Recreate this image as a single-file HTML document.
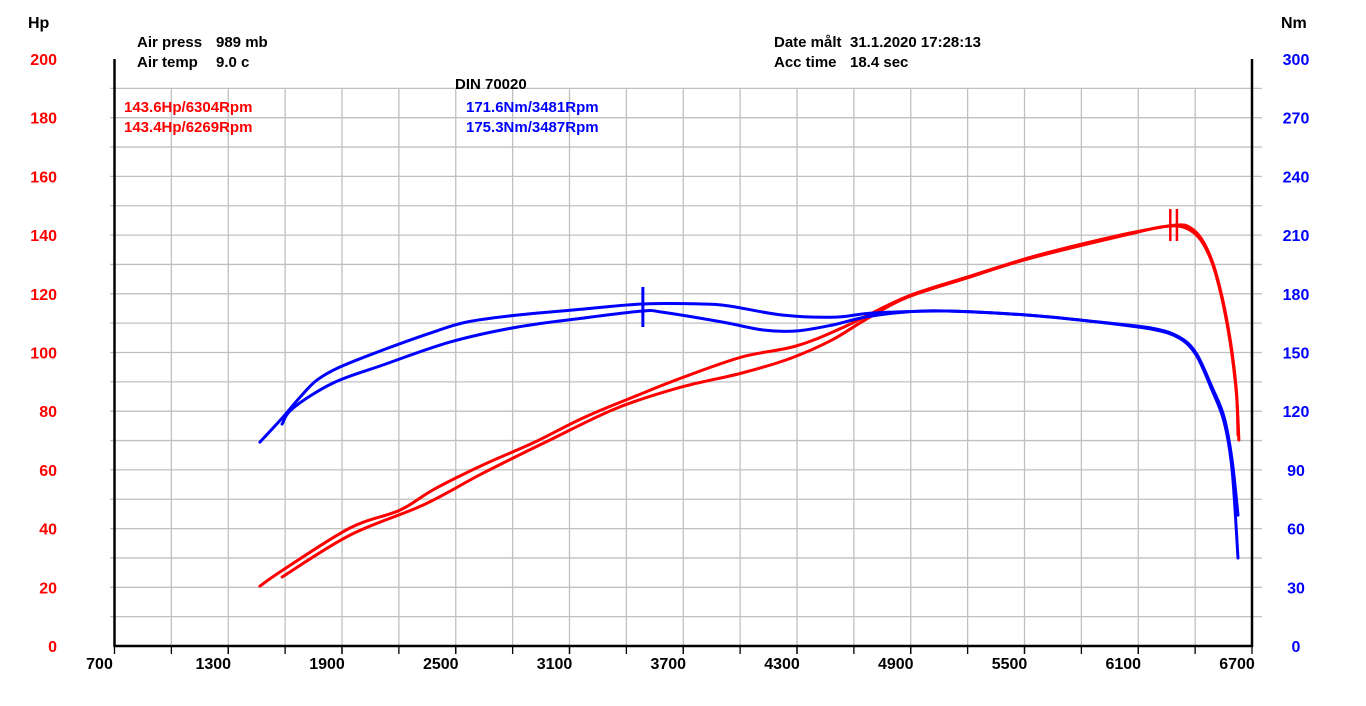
<!DOCTYPE html>
<html><head><meta charset="utf-8"><style>
html,body{margin:0;padding:0;background:#fff;}
svg{display:block;}
text{font-family:"Liberation Sans","DejaVu Sans",sans-serif;font-weight:bold;}
</style></head><body>
<svg id="chart" width="1366" height="706" viewBox="0 0 1366 706" xmlns="http://www.w3.org/2000/svg">
<g id="grid"></g>
<g id="axes"></g>
<g id="series"></g>
<text x="28" y="28" font-size="16" fill="#000">Hp</text>
<text x="1281" y="28" font-size="16" fill="#000">Nm</text>
<g font-size="15" fill="#000">
<text x="137" y="47">Air press</text><text x="216" y="47">989 mb</text>
<text x="137" y="67">Air temp</text><text x="216" y="67">9.0 c</text>
<text x="774" y="47">Date målt</text><text x="850" y="47">31.1.2020 17:28:13</text>
<text x="774" y="67">Acc time</text><text x="850" y="67">18.4 sec</text>
<text x="455" y="89">DIN 70020</text>
</g>
<g font-size="15">
<text x="124" y="112" fill="#ff0000">143.6Hp/6304Rpm</text>
<text x="124" y="132" fill="#ff0000">143.4Hp/6269Rpm</text>
<text x="466" y="112" fill="#0000ff">171.6Nm/3481Rpm</text>
<text x="466" y="132" fill="#0000ff">175.3Nm/3487Rpm</text>
</g>
</svg>
<script>
const xTicks=[700,1300,1900,2500,3100,3700,4300,4900,5500,6100,6700];
const hpTicks=[0,20,40,60,80,100,120,140,160,180,200];
const nmTicks=[0,30,60,90,120,150,180,210,240,270,300];
const powerA_rpm=[1467,1589,1942,2206,2380,2644,2908,3171,3435,3689,4010,4295,4548,4875,5197,5519,5735,6057,6294,6378,6447,6510,6574,6616,6626];
const powerA_hp=[20.4,25.9,40.2,46.3,53.2,61.7,69.2,77.7,84.8,91.3,98.5,102.2,108.7,118.9,125.7,132.2,135.9,140.7,143.4,142.4,137.3,127.1,108.7,88.2,71.9];
const powerB_rpm=[1584,1942,2327,2644,2997,3351,3689,4010,4269,4485,4659,4875,5197,5519,6057,6267,6373,6447,6510,6574,6616,6631];
const powerB_hp=[23.5,37.8,48.0,58.9,70.2,81.1,88.2,93.0,98.1,104.3,111.1,118.6,125.4,131.9,140.4,143.1,141.7,136.6,126.4,107.7,87.2,70.2];
const torqueA_rpm=[1467,1589,1679,1768,1889,2116,2380,2559,2823,3171,3488,3799,3947,4226,4506,4701,5091,5519,5840,6167,6315,6405,6489,6553,6595,6626];
const torqueA_nm=[104.2,117.0,127.2,135.9,142.6,151.3,160.4,165.6,169.1,172.2,174.8,174.8,173.7,169.1,168.1,170.2,171.2,169.1,166.1,162.5,157.9,149.7,132.3,117.0,95.0,66.9];
const torqueB_rpm=[1584,1642,1853,2116,2469,2823,3171,3488,3583,3905,4121,4295,4485,4659,4875,5091,5519,5840,6167,6315,6405,6489,6553,6595,6626];
const torqueB_nm=[113.4,121.6,134.4,143.6,155.3,163.0,167.6,171.2,170.7,165.6,161.5,161.0,164.0,168.1,170.7,171.2,169.1,166.1,162.0,157.4,148.7,130.8,114.5,89.9,45.0];
const peakHp_rpm=[6269,6304];
const peakNm_rpm=[3487];

const X0=114.5,X1=1252,Y0=646,Y1=59;
const xS=r=>X0+(r-700)*(X1-X0)/6000;
const yHp=h=>Y0-h*(Y0-Y1)/200;
const yNm=n=>Y0-n*(Y0-Y1)/300;
const NS='http://www.w3.org/2000/svg';
function mk(tag,attrs,parent){const e=document.createElementNS(NS,tag);for(const k in attrs)e.setAttribute(k,attrs[k]);parent.appendChild(e);return e;}
const grid=document.getElementById('grid'),axes=document.getElementById('axes'),series=document.getElementById('series');
for(let r=1000;r<6700;r+=300){
  const l=mk('line',{x1:xS(r),x2:xS(r),y1:88,y2:Y0,stroke:'#c0c0c0','stroke-width':1.3},grid);
  
  
  const t=mk('line',{x1:xS(r),x2:xS(r),y1:Y0,y2:Y0+8,stroke:'#000','stroke-width':1.3},axes);
  
  
}
for(let h=10;h<200;h+=10){
  const l=mk('line',{x1:110,x2:1262,y1:yHp(h),y2:yHp(h),stroke:'#c0c0c0','stroke-width':1.3},grid);
  
  
}
mk('line',{x1:X0,x2:X0,y1:Y1,y2:Y0+1,stroke:'#000','stroke-width':2.5},axes);
mk('line',{x1:X1,x2:X1,y1:Y1,y2:Y0+1,stroke:'#000','stroke-width':2.5},axes);
mk('line',{x1:X0-1,x2:X1+1,y1:Y0,y2:Y0,stroke:'#000','stroke-width':2.5},axes);
xTicks.forEach(r=>{
  const t=mk('text',{x:xS(r)-15,y:669,'text-anchor':'middle','font-size':16,fill:'#000'},axes);
  t.textContent=r;
  
  
  mk('line',{x1:xS(r),x2:xS(r),y1:Y0,y2:Y0+8,stroke:'#000','stroke-width':1.3},axes);
});
hpTicks.forEach(h=>{
  const t=mk('text',{x:57,y:yHp(h)+6,'text-anchor':'end','font-size':16,fill:'#ff0000'},axes);
  t.textContent=h;
  
  
});
nmTicks.forEach(n=>{
  const t=mk('text',{x:1296,y:yNm(n)+6,'text-anchor':'middle','font-size':16,fill:'#0000ff'},axes);
  t.textContent=n;
  
  
});
function curve(rs,vs,yf,color,name){
  const P=rs.map((r,i)=>[xS(r),yf(vs[i])]);
  let d='M'+P[0][0].toFixed(1)+' '+P[0][1].toFixed(1);
  for(let i=0;i<P.length-1;i++){
    const p0=P[i-1]||P[i],p1=P[i],p2=P[i+1],p3=P[i+2]||P[i+1];
    const c1=[p1[0]+(p2[0]-p0[0])/6,p1[1]+(p2[1]-p0[1])/6];
    const c2=[p2[0]-(p3[0]-p1[0])/6,p2[1]-(p3[1]-p1[1])/6];
    d+=' C'+c1[0].toFixed(1)+' '+c1[1].toFixed(1)+' '+c2[0].toFixed(1)+' '+c2[1].toFixed(1)+' '+p2[0].toFixed(1)+' '+p2[1].toFixed(1);
  }
  const p=mk('path',{d:d,fill:'none',stroke:color,'stroke-width':3,'stroke-linejoin':'round','stroke-linecap':'round'},series);
  
  
}
curve(powerA_rpm,powerA_hp,yHp,'#ff0000','power-curve-run1');
curve(powerB_rpm,powerB_hp,yHp,'#ff0000','power-curve-run2');
curve(torqueA_rpm,torqueA_nm,yNm,'#0000ff','torque-curve-run1');
curve(torqueB_rpm,torqueB_nm,yNm,'#0000ff','torque-curve-run2');
peakHp_rpm.forEach(r=>{
  const m=mk('line',{x1:xS(r),x2:xS(r),y1:209,y2:241,stroke:'#ff0000','stroke-width':2.5},series);
  
  
});
peakNm_rpm.forEach(r=>{
  const m=mk('line',{x1:xS(r),x2:xS(r),y1:287,y2:327,stroke:'#0000ff','stroke-width':3},series);
  
  
});
</script>
</body></html>
